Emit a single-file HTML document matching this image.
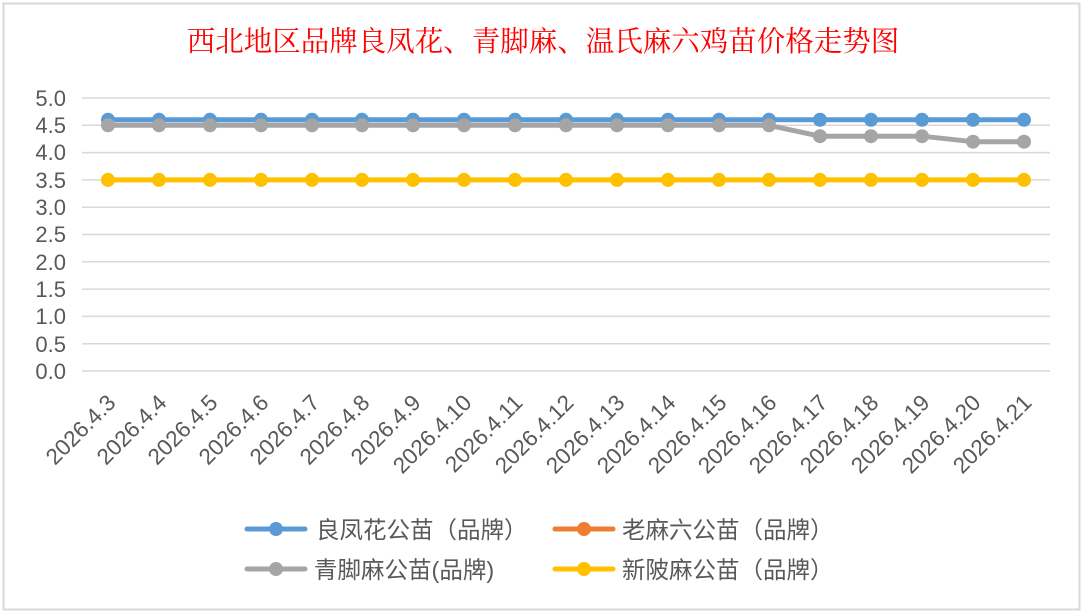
<!DOCTYPE html>
<html><head><meta charset="utf-8"><style>body{margin:0;background:#fff}svg{display:block}</style></head><body>
<svg width="1086" height="616" xmlns="http://www.w3.org/2000/svg" font-family="'Liberation Sans','Noto Sans CJK SC',sans-serif">
<rect x="0" y="0" width="1086" height="616" fill="#fff"/>
<rect x="3.5" y="3.5" width="1076" height="606" fill="#fff" stroke="#d9d9d9" stroke-width="2"/>
<text x="543" y="51" text-anchor="middle" font-family="'Liberation Serif','Noto Serif CJK SC',serif" font-size="28.5" fill="#ff0000">西北地区品牌良凤花、青脚麻、温氏麻六鸡苗价格走势图</text>
<g stroke="#d9d9d9" stroke-width="1.5">
<line x1="82" x2="1050" y1="98" y2="98"/><line x1="82" x2="1050" y1="125.3" y2="125.3"/><line x1="82" x2="1050" y1="152.6" y2="152.6"/><line x1="82" x2="1050" y1="179.9" y2="179.9"/><line x1="82" x2="1050" y1="207.2" y2="207.2"/><line x1="82" x2="1050" y1="234.5" y2="234.5"/><line x1="82" x2="1050" y1="261.8" y2="261.8"/><line x1="82" x2="1050" y1="289.1" y2="289.1"/><line x1="82" x2="1050" y1="316.4" y2="316.4"/><line x1="82" x2="1050" y1="343.7" y2="343.7"/><line x1="82" x2="1050" y1="371" y2="371"/>
</g>
<g font-size="22" fill="#595959" text-anchor="end">
<text x="66" y="106">5.0</text><text x="66" y="133">4.5</text><text x="66" y="160">4.0</text><text x="66" y="188">3.5</text><text x="66" y="215">3.0</text><text x="66" y="242">2.5</text><text x="66" y="270">2.0</text><text x="66" y="297">1.5</text><text x="66" y="324">1.0</text><text x="66" y="352">0.5</text><text x="66" y="379">0.0</text>
</g>
<g fill="none" stroke-width="5" stroke-linejoin="round">
<polyline stroke="#5b9bd5" points="108,119.8 1024,119.8"/>
<polyline stroke="#ffc000" points="108,179.9 1024,179.9"/>
<polyline stroke="#a5a5a5" points="108,125.3 769,125.3 820,136.2 871,136.2 922,136.2 973,141.7 1024,141.7"/>
</g>
<g fill="#5b9bd5">
<circle cx="108" cy="119.8" r="7"/><circle cx="159" cy="119.8" r="7"/><circle cx="210" cy="119.8" r="7"/><circle cx="261" cy="119.8" r="7"/><circle cx="312" cy="119.8" r="7"/><circle cx="362" cy="119.8" r="7"/><circle cx="413" cy="119.8" r="7"/><circle cx="464" cy="119.8" r="7"/><circle cx="515" cy="119.8" r="7"/><circle cx="566" cy="119.8" r="7"/><circle cx="617" cy="119.8" r="7"/><circle cx="668" cy="119.8" r="7"/><circle cx="719" cy="119.8" r="7"/><circle cx="769" cy="119.8" r="7"/><circle cx="820" cy="119.8" r="7"/><circle cx="871" cy="119.8" r="7"/><circle cx="922" cy="119.8" r="7"/><circle cx="973" cy="119.8" r="7"/><circle cx="1024" cy="119.8" r="7"/>
</g>
<g fill="#a5a5a5">
<circle cx="108" cy="125.3" r="7"/><circle cx="159" cy="125.3" r="7"/><circle cx="210" cy="125.3" r="7"/><circle cx="261" cy="125.3" r="7"/><circle cx="312" cy="125.3" r="7"/><circle cx="362" cy="125.3" r="7"/><circle cx="413" cy="125.3" r="7"/><circle cx="464" cy="125.3" r="7"/><circle cx="515" cy="125.3" r="7"/><circle cx="566" cy="125.3" r="7"/><circle cx="617" cy="125.3" r="7"/><circle cx="668" cy="125.3" r="7"/><circle cx="719" cy="125.3" r="7"/><circle cx="769" cy="125.3" r="7"/><circle cx="820" cy="136.2" r="7"/><circle cx="871" cy="136.2" r="7"/><circle cx="922" cy="136.2" r="7"/><circle cx="973" cy="141.7" r="7"/><circle cx="1024" cy="141.7" r="7"/>
</g>
<g fill="#ffc000">
<circle cx="108" cy="179.9" r="7"/><circle cx="159" cy="179.9" r="7"/><circle cx="210" cy="179.9" r="7"/><circle cx="261" cy="179.9" r="7"/><circle cx="312" cy="179.9" r="7"/><circle cx="362" cy="179.9" r="7"/><circle cx="413" cy="179.9" r="7"/><circle cx="464" cy="179.9" r="7"/><circle cx="515" cy="179.9" r="7"/><circle cx="566" cy="179.9" r="7"/><circle cx="617" cy="179.9" r="7"/><circle cx="668" cy="179.9" r="7"/><circle cx="719" cy="179.9" r="7"/><circle cx="769" cy="179.9" r="7"/><circle cx="820" cy="179.9" r="7"/><circle cx="871" cy="179.9" r="7"/><circle cx="922" cy="179.9" r="7"/><circle cx="973" cy="179.9" r="7"/><circle cx="1024" cy="179.9" r="7"/>
</g>
<g font-size="22.5" fill="#595959" text-anchor="end">
<text transform="translate(117,404) rotate(-45)">2026.4.3</text>
<text transform="translate(168,404) rotate(-45)">2026.4.4</text>
<text transform="translate(219,404) rotate(-45)">2026.4.5</text>
<text transform="translate(270,404) rotate(-45)">2026.4.6</text>
<text transform="translate(321,404) rotate(-45)">2026.4.7</text>
<text transform="translate(371,404) rotate(-45)">2026.4.8</text>
<text transform="translate(422,404) rotate(-45)">2026.4.9</text>
<text transform="translate(473,404) rotate(-45)">2026.4.10</text>
<text transform="translate(524,404) rotate(-45)">2026.4.11</text>
<text transform="translate(575,404) rotate(-45)">2026.4.12</text>
<text transform="translate(626,404) rotate(-45)">2026.4.13</text>
<text transform="translate(677,404) rotate(-45)">2026.4.14</text>
<text transform="translate(728,404) rotate(-45)">2026.4.15</text>
<text transform="translate(778,404) rotate(-45)">2026.4.16</text>
<text transform="translate(829,404) rotate(-45)">2026.4.17</text>
<text transform="translate(880,404) rotate(-45)">2026.4.18</text>
<text transform="translate(931,404) rotate(-45)">2026.4.19</text>
<text transform="translate(982,404) rotate(-45)">2026.4.20</text>
<text transform="translate(1033,404) rotate(-45)">2026.4.21</text>
</g>
<g stroke-width="5" stroke-linecap="round">
<line x1="247" x2="305" y1="529" y2="529" stroke="#5b9bd5"/><circle cx="276" cy="529" r="7" fill="#5b9bd5"/>
<line x1="555" x2="613" y1="529" y2="529" stroke="#ed7d31"/><circle cx="584" cy="529" r="7" fill="#ed7d31"/>
<line x1="247" x2="305" y1="569" y2="569" stroke="#a5a5a5"/><circle cx="276" cy="569" r="7" fill="#a5a5a5"/>
<line x1="555" x2="613" y1="569" y2="569" stroke="#ffc000"/><circle cx="584" cy="569" r="7" fill="#ffc000"/>
</g>
<g font-size="23.5" fill="#595959">
<text x="316" y="538">良凤花公苗（品牌）</text>
<text x="622" y="538">老麻六公苗（品牌）</text>
<text x="314" y="578">青脚麻公苗(品牌)</text>
<text x="622" y="578">新陂麻公苗（品牌）</text>
</g>
</svg>
</body></html>
